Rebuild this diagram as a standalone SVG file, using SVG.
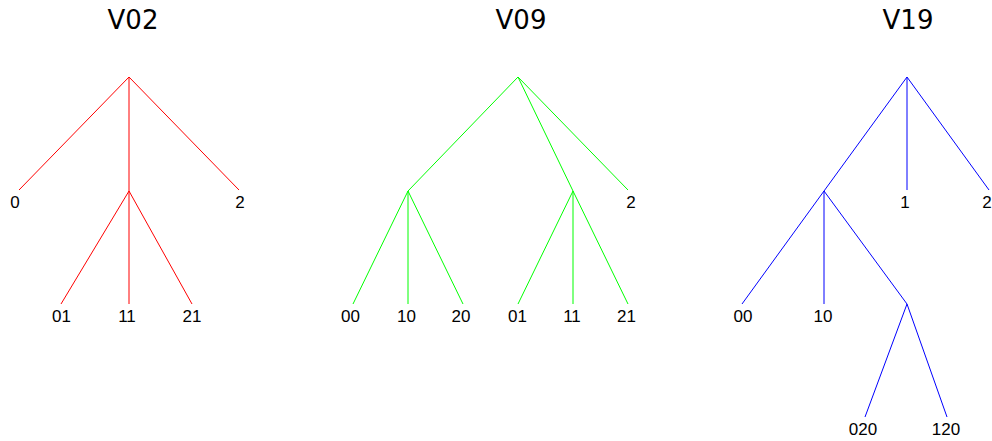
<svg xmlns="http://www.w3.org/2000/svg" width="992" height="441" viewBox="0 0 992 441">
<style>
.t{font-family:"DejaVu Sans",Verdana,sans-serif;font-size:26px;fill:#000;text-anchor:middle}
.l{font-family:"Liberation Sans",Arial,sans-serif;font-size:17px;fill:#000;text-anchor:middle}
.r line{stroke:#ff0000;stroke-width:1}
.g line{stroke:#00ff00;stroke-width:1}
.b line{stroke:#0000ff;stroke-width:1}
</style>
<rect width="992" height="441" fill="#fff"/>
<g id="tree-V02">
<text class="t" x="133" y="29">V02</text>
<g id="edges-V02" class="r">
<line x1="129" y1="77" x2="19" y2="190"/>
<line x1="129" y1="77" x2="129" y2="191"/>
<line x1="129" y1="77" x2="239" y2="190"/>
<line x1="129" y1="191" x2="61" y2="304"/>
<line x1="129" y1="191" x2="129" y2="304"/>
<line x1="129" y1="191" x2="192" y2="304"/>
</g>
<g id="v02-0"><text class="l" x="15" y="208">0</text></g>
<g id="v02-2"><text class="l" x="240" y="208">2</text></g>
<g id="v02-01"><text class="l" x="61.5" y="322">01</text></g>
<g id="v02-11"><text class="l" x="127" y="322">11</text></g>
<g id="v02-21"><text class="l" x="192" y="322">21</text></g>
</g>
<g id="tree-V09">
<text class="t" x="521" y="29">V09</text>
<g id="edges-V09" class="g">
<line x1="518" y1="77" x2="408" y2="191"/>
<line x1="518" y1="77" x2="573" y2="191"/>
<line x1="518" y1="77" x2="628" y2="190"/>
<line x1="408" y1="191" x2="353" y2="304"/>
<line x1="408" y1="191" x2="408" y2="304"/>
<line x1="408" y1="191" x2="463" y2="304"/>
<line x1="573" y1="191" x2="518" y2="304"/>
<line x1="573" y1="191" x2="573" y2="304"/>
<line x1="573" y1="191" x2="628" y2="304"/>
</g>
<g id="v09-2"><text class="l" x="631" y="208">2</text></g>
<g id="v09-00"><text class="l" x="350.5" y="322">00</text></g>
<g id="v09-10"><text class="l" x="406.5" y="322">10</text></g>
<g id="v09-20"><text class="l" x="461" y="322">20</text></g>
<g id="v09-01"><text class="l" x="517.5" y="322">01</text></g>
<g id="v09-11"><text class="l" x="572" y="322">11</text></g>
<g id="v09-21"><text class="l" x="626.5" y="322">21</text></g>
</g>
<g id="tree-V19">
<text class="t" x="908" y="29">V19</text>
<g id="edges-V19" class="b">
<line x1="907" y1="77" x2="824" y2="191"/>
<line x1="907" y1="77" x2="907" y2="190"/>
<line x1="907" y1="77" x2="989" y2="190"/>
<line x1="824" y1="191" x2="742" y2="304"/>
<line x1="824" y1="191" x2="824" y2="304"/>
<line x1="824" y1="191" x2="907" y2="304"/>
<line x1="907" y1="304" x2="865" y2="417"/>
<line x1="907" y1="304" x2="947" y2="417"/>
</g>
<g id="v19-1"><text class="l" x="905" y="208">1</text></g>
<g id="v19-2"><text class="l" x="987" y="208">2</text></g>
<g id="v19-00"><text class="l" x="743" y="322">00</text></g>
<g id="v19-10"><text class="l" x="823" y="322">10</text></g>
<g id="v19-020"><text class="l" x="863" y="435">020</text></g>
<g id="v19-120"><text class="l" x="946" y="435">120</text></g>
</g>
</svg>
